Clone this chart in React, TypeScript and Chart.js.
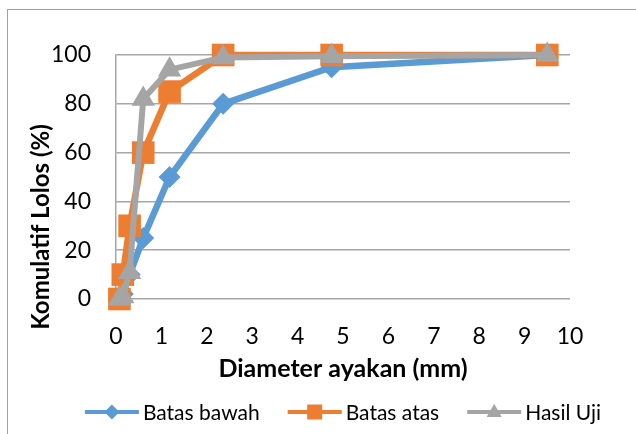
import React, { useEffect, useRef } from "react";
import { Chart, registerables } from "chart.js";
Chart.register(...registerables);

const sieveSizes = [0.075, 0.15, 0.3, 0.6, 1.18, 2.36, 4.75, 9.5];
const batasBawah = [0, 2, 10, 25, 50, 80, 95, 100];
const batasAtas = [0, 10, 30, 60, 85, 100, 100, 100];
const hasilUji = [0, 1, 11, 82, 94, 99, 99.5, 100];
const seriesNames = ["Batas bawah", "Batas atas", "Hasil Uji"];
const seriesColors = ["#5B9BD5", "#ED7D31", "#A5A5A5"];
const xTitle = "Diameter ayakan (mm)";
const yTitle = "Komulatif Lolos (%)";

const FONT = "Lato, 'Liberation Sans', sans-serif";

function drawMarker(ctx: CanvasRenderingContext2D, style: string, x: number, y: number, r: number) {
  ctx.beginPath();
  if (style === "rectRot") {
    ctx.moveTo(x, y - r);
    ctx.lineTo(x + r, y);
    ctx.lineTo(x, y + r);
    ctx.lineTo(x - r, y);
  } else if (style === "rect") {
    ctx.rect(x - r, y - r, 2 * r, 2 * r);
  } else {
    ctx.moveTo(x, y - r * 1.1);
    ctx.lineTo(x + r, y + r * 0.65);
    ctx.lineTo(x - r, y + r * 0.65);
  }
  ctx.closePath();
  ctx.fill();
}

const legendStyles = ["rectRot", "rect", "triangle"];

const legendPlugin = {
  id: "customLegend",
  afterDraw(chart: any) {
    const ctx: CanvasRenderingContext2D = chart.ctx;
    ctx.save();
    ctx.font = `21px ${FONT}`;
    const sym = 54;
    const gapSym = 4;
    const gapItem = 28;
    const widths = seriesNames.map((n) => ctx.measureText(n).width);
    const total = widths.reduce((a, w) => a + sym + gapSym + w, 0) + gapItem * (seriesNames.length - 1);
    const ca = chart.chartArea;
    let x = (ca.left + ca.right) / 2 - total / 2;
    const y = chart.height - 22;
    seriesNames.forEach((name, i) => {
      ctx.strokeStyle = seriesColors[i];
      ctx.fillStyle = seriesColors[i];
      ctx.lineWidth = 4;
      ctx.beginPath();
      ctx.moveTo(x, y);
      ctx.lineTo(x + sym, y);
      ctx.stroke();
      drawMarker(ctx, legendStyles[i], x + sym / 2, y, 7.5);
      ctx.fillStyle = "#000";
      ctx.textAlign = "left";
      ctx.textBaseline = "middle";
      ctx.fillText(name, x + sym + gapSym, y + 1);
      x += sym + gapSym + widths[i] + gapItem;
    });
    ctx.restore();
  },
};

const yTitlePlugin = {
  id: "yTitle",
  afterDraw(chart: any) {
    const ctx: CanvasRenderingContext2D = chart.ctx;
    ctx.save();
    ctx.translate(41, 227);
    ctx.rotate(-Math.PI / 2);
    ctx.font = `bold 24px ${FONT}`;
    ctx.textAlign = "center";
    ctx.textBaseline = "middle";
    ctx.fillStyle = "#000";
    ctx.fillText(yTitle, 0, 0);
    ctx.restore();
  },
};

export default function App() {
  const ref = useRef<HTMLCanvasElement>(null);
  useEffect(() => {
    if (!ref.current) return;
    const mk = (vals: number[]) => sieveSizes.map((x, i) => ({ x, y: vals[i] }));
    const chart = new Chart(ref.current, {
      type: "line",
      data: {
        datasets: [
          {
            label: seriesNames[0],
            data: mk(batasBawah),
            borderColor: seriesColors[0],
            backgroundColor: seriesColors[0],
            borderWidth: 6.5,
            pointStyle: "rectRot",
            pointRadius: 11,
            pointBorderWidth: 0,
            order: 3,
            clip: false as any,
          },
          {
            label: seriesNames[1],
            data: mk(batasAtas),
            borderColor: seriesColors[1],
            backgroundColor: seriesColors[1],
            borderWidth: 6.5,
            pointStyle: "rect",
            pointRadius: 16,
            pointBorderWidth: 0,
            order: 2,
            clip: false as any,
          },
          {
            label: seriesNames[2],
            data: mk(hasilUji),
            borderColor: seriesColors[2],
            backgroundColor: seriesColors[2],
            borderWidth: 6,
            pointStyle: "triangle",
            pointRadius: 13.5,
            pointBorderWidth: 0,
            order: 1,
            clip: false as any,
          },
        ],
      },
      options: {
        responsive: false,
        animation: false,
        devicePixelRatio: 1,
        layout: { padding: { left: 0, right: 66, top: 55, bottom: 50 } },
        plugins: { legend: { display: false }, tooltip: { enabled: false } },
        scales: {
          x: {
            type: "linear",
            min: 0,
            max: 10,
            ticks: { stepSize: 1, padding: 24, color: "#000", font: { family: FONT, size: 23 } },
            grid: { display: false, drawTicks: false },
            border: { display: false },
            title: {
              display: true,
              text: xTitle,
              color: "#000",
              font: { family: FONT, size: 25, weight: "bold" },
              padding: 0,
            },
            afterFit(s: any) {
              s.height = 85;
            },
          },
          y: {
            min: 0,
            max: 100,
            ticks: { stepSize: 20, padding: 25, color: "#000", font: { family: FONT, size: 23 } },
            grid: { color: "#A6A6A6", lineWidth: 1.5, drawTicks: false },
            border: { display: true, color: "#A6A6A6", width: 1.5 },
            afterFit(s: any) {
              s.width = 116;
            },
          },
        },
      },
      plugins: [legendPlugin, yTitlePlugin],
    });
    return () => chart.destroy();
  }, []);
  return (
    <div style={{ position: "fixed", left: 0, top: 0, width: 636, height: 434, overflow: "hidden", background: "#fff" }}>
      <div
        style={{
          position: "absolute",
          left: 7,
          top: 9,
          width: 700,
          height: 500,
          borderLeft: "1.5px solid #A0A0A0",
          borderTop: "1.5px solid #A0A0A0",
        }}
      />
      <canvas ref={ref} width={636} height={434} style={{ position: "absolute", left: 0, top: 0 }} />
    </div>
  );
}
